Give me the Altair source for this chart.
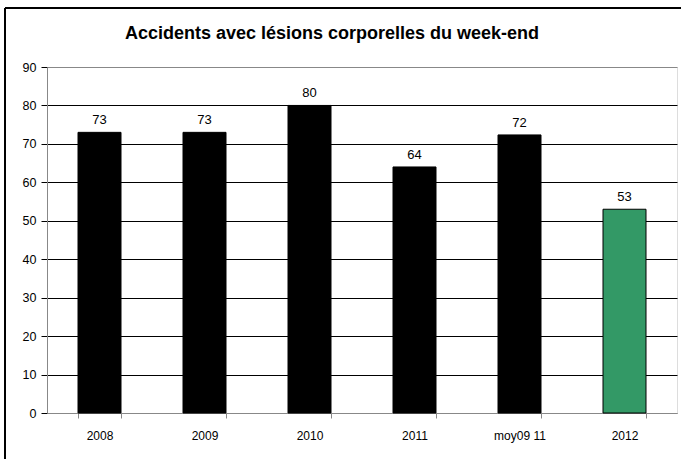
import altair as alt
import pandas as pd

categories = ["2008", "2009", "2010", "2011", "moy09 11", "2012"]
values = [73, 73, 80, 64, 72.33, 53]
labels = ["73", "73", "80", "64", "72", "53"]
colors = ["#000000", "#000000", "#000000", "#000000", "#000000", "#339966"]

df = pd.DataFrame({"cat": categories, "val": values, "lab": labels, "col": colors})

FONT = "Liberation Sans"

x = alt.X("cat:N", sort=categories, title=None,
          scale=alt.Scale(paddingInner=0.59, paddingOuter=0.295),
          axis=alt.Axis(labelAngle=0, tickBand="extent", domainColor="#888888",
                        tickColor="#888888", tickSize=5, labelPadding=12,
                        labelFontSize=12, labelColor="#000000", labelFont=FONT))
y = alt.Y("val:Q", title=None,
          scale=alt.Scale(domain=[0, 90], nice=False),
          axis=alt.Axis(values=list(range(0, 100, 10)), tickSize=6, tickColor="#000000",
                        domainColor="#888888", labelPadding=5, labelFontSize=12.5,
                        labelColor="#000000", labelFont=FONT, labelOverlap=False,
                        gridColor={"condition": {"test": "datum.value >= 90 || datum.value <= 0", "value": "#888888"}, "value": "#000000"},
                        gridWidth=1))

bars = alt.Chart(df).mark_bar(size=43, stroke="#000000", strokeWidth=1).encode(
    x=x, y=y, fill=alt.Fill("col:N", scale=None)
)
text = alt.Chart(df).mark_text(dy=-12, fontSize=13, font=FONT, color="#000000").encode(
    x=x, y=y, text="lab:N"
)
frame_top = alt.Chart(df).mark_rule(color="#000000", strokeWidth=2).encode(
    x=alt.value(-42), x2=alt.value(700), y=alt.value(-59)
)
frame_left = alt.Chart(df).mark_rule(color="#000000", strokeWidth=2).encode(
    x=alt.value(-42), y=alt.value(-59), y2=alt.value(400)
)

chart = alt.layer(bars, text, frame_top, frame_left).properties(
    width=630, height=346,
    title=alt.TitleParams("Accidents avec lésions corporelles du week-end",
                          font=FONT, fontSize=18, fontWeight="bold", color="#000000",
                          anchor="middle", dx=-30, offset=-36, frame="group"),
    autosize=alt.AutoSizeParams(type="none"),
    padding={"left": 47, "top": 67, "right": 4, "bottom": 46},
).configure_view(stroke="#888888", strokeWidth=1).configure(background="white")

chart.save("out.html", embed_options={"renderer": "svg", "actions": False})
